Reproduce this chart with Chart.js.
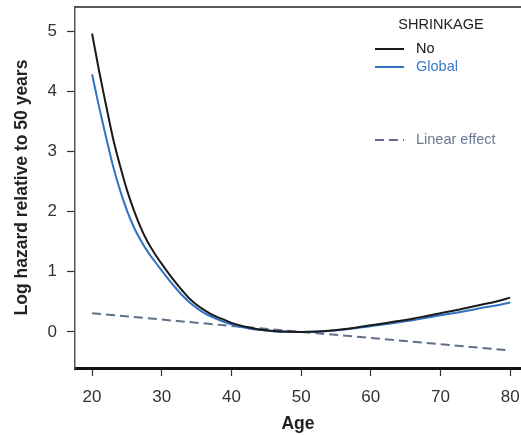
<!DOCTYPE html>
<html>
<head>
<meta charset="utf-8">
<title>Log hazard by age</title>
<script src="https://cdn.jsdelivr.net/npm/chart.js@4.4.1/dist/chart.umd.min.js"></script>
<style>
  html, body { margin: 0; padding: 0; background: #fff; }
  .wrap { width: 521px; height: 435px; position: relative; }
</style>
</head>
<body>
<div class="wrap"><canvas id="myChart" width="521" height="435"></canvas></div>
<script>
// data
const ages = [20,21,22,23,24,25,26,27,28,29,30,31,32,33,34,35,36,37,38,39,40,41,42,43,44,
              46,48,50,52,54,56,58,60,62,64,66,68,70,72,74,76,78,80];
const noShrinkage = [4.96,4.34,3.77,3.22,2.77,2.36,2.02,1.73,1.49,1.3,1.13,0.97,0.82,0.68,0.55,0.45,0.37,0.3,0.245,0.2,0.15,0.115,0.085,0.06,0.04,
                     0.015,0.005,0,0.005,0.02,0.045,0.075,0.11,0.145,0.18,0.22,0.265,0.31,0.355,0.405,0.455,0.505,0.57];
const globalShrinkage = [4.28,3.74,3.24,2.76,2.36,2.02,1.74,1.52,1.33,1.17,1.02,0.87,0.73,0.6,0.49,0.4,0.32,0.26,0.21,0.165,0.125,0.095,0.07,0.05,0.035,
                         0.01,0,0,0,0.015,0.035,0.065,0.095,0.125,0.16,0.195,0.235,0.275,0.315,0.355,0.4,0.44,0.49];
const linearAges = [20,30,40,50,60,70,80];
const linearEffect = [0.31,0.205,0.1,0,-0.1,-0.205,-0.31];

const xTicks = [20,30,40,50,60,70,80];
const yTicks = [0,1,2,3,4,5];

const FONT = "'Liberation Sans', Arial, sans-serif";

function pts(xs, ys) { return xs.map((x, i) => ({x: x, y: ys[i]})); }

// keep the plot box where the figure has it (no extra room for edge labels)
function noPad(s) { s.paddingTop = 0; s.paddingBottom = 0; s.paddingLeft = 0; s.paddingRight = 0; }

// legend drawn by hand (title, two entries, gap, third entry) + top frame line
const extras = {
  id: 'extras',
  afterDraw(chart) {
    const ctx = chart.ctx;
    const a = chart.chartArea;
    ctx.save();
    ctx.strokeStyle = '#222';
    ctx.lineWidth = 1.5;
    ctx.beginPath();
    ctx.moveTo(a.left, a.top);
    ctx.lineTo(chart.width, a.top);
    ctx.stroke();

    ctx.font = '14.5px ' + FONT;
    ctx.textBaseline = 'middle';
    ctx.textAlign = 'center';
    ctx.fillStyle = '#222';
    ctx.fillText('SHRINKAGE', 441, 25);

    const rows = [49, 67, 140];
    ctx.textAlign = 'left';
    chart.data.datasets.forEach((ds, i) => {
      const y = rows[i];
      ctx.strokeStyle = ds.borderColor;
      ctx.lineWidth = 2;
      ctx.setLineDash(ds.borderDash || []);
      ctx.beginPath();
      ctx.moveTo(375, y);
      ctx.lineTo(404, y);
      ctx.stroke();
      ctx.setLineDash([]);
      ctx.fillStyle = ds.labelColor;
      ctx.fillText(ds.label, 416, y);
    });
    ctx.restore();
  }
};

const ctx = document.getElementById('myChart').getContext('2d');
new Chart(ctx, {
  type: 'line',
  data: {
    datasets: [{
      label: 'No',
      data: pts(ages, noShrinkage),
      borderColor: '#1a1a1a',
      labelColor: '#111',
      borderWidth: 2,
      pointRadius: 0,
      cubicInterpolationMode: 'monotone'
    }, {
      label: 'Global',
      data: pts(ages, globalShrinkage),
      borderColor: '#3072c4',
      labelColor: '#3a78c4',
      borderWidth: 2,
      pointRadius: 0,
      cubicInterpolationMode: 'monotone'
    }, {
      label: 'Linear effect',
      data: pts(linearAges, linearEffect),
      borderColor: '#5f6f8a',
      labelColor: '#6b7a92',
      borderWidth: 2,
      borderDash: [9, 5],
      pointRadius: 0
    }]
  },
  options: {
    responsive: false,
    animation: false,
    devicePixelRatio: 1,
    layout: { padding: { top: 7, right: 0, left: 0, bottom: 0 } },
    plugins: { legend: { display: false }, tooltip: { enabled: false } },
    scales: {
      x: {
        type: 'linear',
        min: 17.55,
        max: 81.55,
        afterBuildTicks: s => { s.ticks = xTicks.map(v => ({value: v})); },
        afterFit: s => { s.height = 67; noPad(s); },
        grid: { drawOnChartArea: false, tickLength: 8, color: '#333', tickWidth: 1.2 },
        border: { color: '#111', width: 3 },
        ticks: { color: '#333', font: { family: FONT, size: 17 }, padding: 11, maxRotation: 0 },
        title: { display: true, text: 'Age', color: '#222', font: { family: FONT, size: 17.5, weight: 'bold' }, padding: { top: 0, bottom: 0 } }
      },
      y: {
        min: -0.6,
        max: 5.4,
        afterBuildTicks: s => { s.ticks = yTicks.map(v => ({value: v})); },
        afterFit: s => { s.width = 75; noPad(s); },
        grid: { drawOnChartArea: false, tickLength: 8, color: '#333', tickWidth: 1.2 },
        border: { color: '#555', width: 1.5 },
        ticks: { color: '#333', font: { family: FONT, size: 17 }, padding: 10 },
        title: { display: true, text: 'Log hazard relative to 50 years', color: '#222', font: { family: FONT, size: 17.5, weight: 'bold' }, padding: { top: 12, bottom: 0 } }
      }
    }
  },
  plugins: [extras]
});
</script>
</body>
</html>
